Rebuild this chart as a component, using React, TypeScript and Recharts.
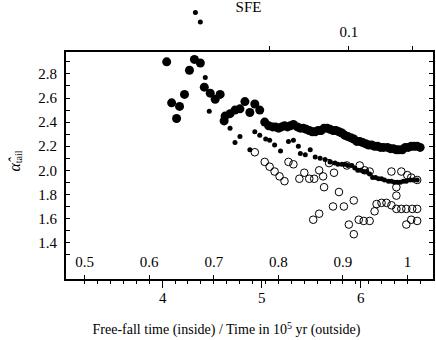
import { ScatterChart, Scatter, XAxis, YAxis } from 'recharts';

const SERIF = "'Liberation Serif', 'Times New Roman', serif";
const W = 436;
const H = 340;
// pixel box of the frame; the chart's plot area starts higher (PLOT_TOP) so
// the two dots above the frame are not clipped
const PLOT_TOP = 4;
const PLOT_LEFT = 65;
const PLOT_RIGHT = W - 2;
const FRAME_TOP = 51;
const FRAME_BOTTOM = 280;

const TIME_DOMAIN: [number, number] = [3.013, 6.74];
const FF_DOMAIN: [number, number] = [0.4696, 1.0409];
const Y_MIN = 1.09;
const Y_FRAME = 2.99;
const PER_PX = (Y_FRAME - Y_MIN) / (FRAME_BOTTOM - FRAME_TOP);
const Y_DOMAIN: [number, number] = [Y_MIN, Y_FRAME + (FRAME_TOP - PLOT_TOP) * PER_PX];

// big filled circles
const bigTime = [
  4.04, 4.09, 4.14, 4.17, 4.22, 4.27, 4.32, 4.38, 4.42, 4.48,
  4.53, 4.58, 4.62, 4.63, 4.68, 4.73, 4.78, 4.83, 4.88, 4.93,
  4.98, 5.03, 5.07,
  5.11, 5.14, 5.17, 5.20, 5.23, 5.26, 5.29, 5.32, 5.36, 5.39,
  5.42, 5.45, 5.48, 5.51, 5.54, 5.57, 5.60, 5.63, 5.66, 5.69,
  5.72, 5.75, 5.78, 5.81, 5.84, 5.87, 5.90, 5.93, 5.96, 5.99,
  6.02, 6.05, 6.08, 6.11, 6.14, 6.17, 6.20, 6.23, 6.27, 6.30,
  6.33, 6.36, 6.39, 6.42, 6.45, 6.48, 6.51, 6.54, 6.57, 6.60,
];
const bigAlpha = [
  2.90, 2.56, 2.43, 2.53, 2.63, 2.83, 2.92, 2.89, 2.69, 2.64,
  2.59, 2.63, 2.41, 2.45, 2.47, 2.50, 2.51, 2.57, 2.48, 2.55,
  2.50, 2.40, 2.37,
  2.36, 2.36, 2.35, 2.36, 2.37, 2.36, 2.37, 2.38, 2.36, 2.35,
  2.35, 2.34, 2.33, 2.32, 2.32, 2.33, 2.33, 2.35, 2.35, 2.34,
  2.33, 2.33, 2.32, 2.31, 2.29, 2.28, 2.27, 2.26, 2.24, 2.24,
  2.23, 2.22, 2.21, 2.21, 2.20, 2.20, 2.19, 2.19, 2.19, 2.18,
  2.18, 2.17, 2.17, 2.17, 2.19, 2.19, 2.20, 2.20, 2.20, 2.19,
];

// small filled dots
const smallTime = [
  4.33, 4.38, 4.43, 4.47, 4.68, 4.73, 4.78, 4.88, 4.93, 4.98,
  5.04, 5.08, 5.13, 5.19, 5.27, 5.32, 5.37, 5.39, 5.44, 5.49,
  5.54, 5.59, 5.64, 5.69, 5.74, 5.77, 5.81, 5.84, 5.87, 5.91,
  5.94, 5.97, 6.00, 6.03, 6.06, 6.09, 6.12, 6.15, 6.18, 6.21,
  6.24, 6.28, 6.31, 6.34, 6.37, 6.40, 6.43, 6.46, 6.50, 6.53,
  6.57,
];
const smallAlpha = [
  3.31, 3.23, 2.77, 2.49, 2.35, 2.23, 2.28, 2.17, 2.32, 2.29,
  2.26, 2.25, 2.21, 2.16, 2.24, 2.25, 2.20, 2.14, 2.13, 2.17,
  2.11, 2.10, 2.09, 2.07, 2.06, 2.05, 2.05, 2.05, 2.04, 2.04,
  2.02, 2.00, 2.00, 1.99, 1.99, 1.97, 1.94, 1.94, 1.93, 1.93,
  1.92, 1.91, 1.91, 1.90, 1.90, 1.90, 1.91, 1.91, 1.92, 1.92,
  1.92,
];

// open circles
const openTime = [
  4.93, 5.03, 5.08, 5.13, 5.18, 5.23, 5.27, 5.32, 5.38, 5.43,
  5.48, 5.53, 5.52, 5.58, 5.58, 5.62, 5.63, 5.68, 5.73, 5.72,
  5.78, 5.83, 5.86, 5.88, 5.93, 5.93, 5.98, 5.99, 6.03, 6.04,
  6.09, 6.09, 6.14, 6.16, 6.21, 6.26, 6.31, 6.31, 6.36, 6.36,
  6.36, 6.41, 6.41, 6.46, 6.46, 6.47, 6.52, 6.51, 6.51, 6.57,
  6.57, 6.57,
];
const openAlpha = [
  2.15, 2.07, 2.03, 1.99, 1.95, 1.91, 2.07, 2.05, 1.93, 1.98,
  1.93, 1.93, 1.59, 1.64, 2.00, 1.95, 1.86, 2.06, 1.98, 1.70,
  1.82, 1.70, 2.04, 1.55, 1.47, 1.75, 1.59, 2.04, 1.58, 2.00,
  1.58, 1.99, 1.66, 1.72, 1.73, 1.73, 1.71, 1.99, 1.68, 1.79,
  1.86, 1.68, 1.99, 1.68, 1.55, 1.96, 1.68, 1.59, 1.94, 1.68,
  1.58, 1.92,
];

const alphaTicks = [1.3, 1.4, 1.5, 1.6, 1.7, 1.8, 1.9, 2.0, 2.1, 2.2, 2.3, 2.4, 2.5, 2.6, 2.7, 2.8, 2.9];
const timeTicks = [4, 5, 6];
const ffTicks = [
  0.5, 0.52, 0.54, 0.56, 0.58, 0.6, 0.62, 0.64, 0.66, 0.68,
  0.7, 0.72, 0.74, 0.76, 0.78, 0.8, 0.82, 0.84, 0.86, 0.88,
  0.9, 0.92, 0.94, 0.96, 0.98, 1.0, 1.02,
];
// SFE ticks, placed at the times they fall on
const sfeTickTimes = [5.08, 5.88, 6.52];
const sfeTickLabels = ['', '0.1', ''];

const zip = (t: number[], a: number[]) => t.map((v, i) => ({ t: v, a: a[i] }));
const bigData = zip(bigTime, bigAlpha);
const smallData = zip(smallTime, smallAlpha);
const openData = zip(openTime, openAlpha);
// gives the free-fall axis a domain so it builds its ticks
const ffAnchors = FF_DOMAIN.map((f, i) => ({ t: f, a: Y_DOMAIN[i] }));

const bigDot = (p: any) => <circle cx={p.cx} cy={p.cy} r={4.5} fill="#000" />;
const smallDot = (p: any) => <circle cx={p.cx} cy={p.cy} r={2.5} fill="#000" />;
const openDot = (p: any) => <circle cx={p.cx} cy={p.cy} r={3.8} fill="none" stroke="#000" strokeWidth={1} />;
const noDot = () => <g />;

const isTenth = (v: number) => Math.abs(v * 10 - Math.round(v * 10)) < 1e-6;
const fmtAlpha = (v: number) => (Math.round(v * 10) % 2 === 0 ? v.toFixed(1) : '');

const txt = { fontFamily: SERIF, fontSize: 15, fill: '#000' };

const AlphaTick = (props: any) => {
  const { x, y, payload } = props;
  const lbl = fmtAlpha(payload.value);
  return lbl ? <text x={x} y={y} dy="0.35em" textAnchor="end" {...txt}>{lbl}</text> : <g />;
};
const TimeTick = (props: any) => (
  <text x={props.x} y={props.y} dy="0.75em" textAnchor="middle" {...txt}>{props.payload.value}</text>
);
const FfTick = (props: any) => {
  const v = props.payload.value;
  return isTenth(v) ? <text x={props.x} y={props.y} textAnchor="middle" {...txt}>{v === 1 ? '1' : v.toFixed(1)}</text> : <g />;
};

const alphaLabel = (props: any) => {
  const vb = props.viewBox;
  const cx = vb.x + 14;
  const cy = vb.y + vb.height - 119;
  return (
    <text x={cx} y={cy} transform={`rotate(-90, ${cx}, ${cy})`} textAnchor="middle" dominantBaseline="central"
      fontFamily={SERIF} fontSize={16} fill="#000">
      <tspan fontStyle="italic">α̂</tspan>
      <tspan fontSize={10} dy={4}>tail</tspan>
    </text>
  );
};

const timeLabel = (props: any) => {
  const vb = props.viewBox;
  return (
    <text x={vb.x + vb.width / 2 - 23} y={vb.y + 54} textAnchor="middle" fontFamily={SERIF} fontSize={14} fill="#000">
      Free-fall time (inside) / Time in 10<tspan dy={-5} fontSize={10}>5</tspan>
      <tspan dy={5}> yr (outside)</tspan>
    </text>
  );
};

// frame and tick marks, laid over the chart on the same linear mapping as its axes
const PLOT_W = PLOT_RIGHT - PLOT_LEFT;
const timeX = (t: number) => PLOT_LEFT + ((t - TIME_DOMAIN[0]) / (TIME_DOMAIN[1] - TIME_DOMAIN[0])) * PLOT_W;
const ffX = (f: number) => PLOT_LEFT + ((f - FF_DOMAIN[0]) / (FF_DOMAIN[1] - FF_DOMAIN[0])) * PLOT_W;
const alphaY = (a: number) => FRAME_BOTTOM - (a - Y_MIN) / PER_PX;

const mark = (key: string, left: number, top: number, width: number, height: number) => (
  <div key={key} style={{ position: 'absolute', left, top, width, height, background: '#000' }} />
);

function Frame() {
  const vTick = (key: string, x: number, y0: number, y1: number) => mark(key, Math.round(x - 0.5), y0, 1, y1 - y0);
  const hTick = (key: string, x0: number, y: number) => mark(key, x0, Math.round(y - 0.5), 5, 1);
  return (
    <div style={{ position: 'absolute', left: 0, top: 0, width: W, height: H, pointerEvents: 'none' }}>
      <div style={{
        position: 'absolute', left: PLOT_LEFT - 1, top: FRAME_TOP - 1, width: PLOT_W + 2,
        height: FRAME_BOTTOM - FRAME_TOP + 2, border: '2px solid #000', boxSizing: 'border-box',
      }} />
      {alphaTicks.map((a) => hTick('l' + a, PLOT_LEFT, alphaY(a)))}
      {alphaTicks.map((a) => hTick('r' + a, PLOT_RIGHT - 5, alphaY(a)))}
      {timeTicks.map((t) => vTick('t' + t, timeX(t), FRAME_BOTTOM, FRAME_BOTTOM + 8))}
      {ffTicks.map((f) => vTick('f' + f, ffX(f), isTenth(f) ? FRAME_BOTTOM - 5 : FRAME_BOTTOM, FRAME_BOTTOM + 4))}
      {sfeTickTimes.map((t) => vTick('s' + t, timeX(t), FRAME_TOP - 5, FRAME_TOP))}
      <svg width={W} height={H} style={{ position: 'absolute', left: 0, top: 0 }}>
        {sfeTickTimes.map((t, i) =>
          sfeTickLabels[i] ? (
            <text key={t} x={timeX(t)} y={FRAME_TOP - 14} textAnchor="middle" {...txt}>{sfeTickLabels[i]}</text>
          ) : null,
        )}
        <text x={PLOT_LEFT + PLOT_W / 2 - 1} y={12} textAnchor="middle" {...txt}>SFE</text>
      </svg>
    </div>
  );
}

export default function App() {
  return (
    <div style={{ position: 'absolute', left: 0, top: 0, width: W, height: H, background: '#fff' }}>
      <ScatterChart width={W} height={H} margin={{ top: PLOT_TOP, right: W - PLOT_RIGHT, bottom: 0, left: 0 }}>
        <XAxis
          xAxisId="time" orientation="bottom" type="number" dataKey="t"
          domain={TIME_DOMAIN} allowDataOverflow ticks={timeTicks} interval={0}
          height={H - FRAME_BOTTOM} tickSize={8} tickMargin={4}
          axisLine={false} tickLine={false} tick={<TimeTick />} label={timeLabel}
        />
        <XAxis
          xAxisId="ff" orientation="bottom" mirror type="number" dataKey="t"
          domain={FF_DOMAIN} allowDataOverflow ticks={ffTicks} interval={0}
          height={30} tickSize={5} tickMargin={8}
          axisLine={false} tickLine={false} tick={<FfTick />}
        />
        <YAxis
          yAxisId="left" orientation="left" type="number" dataKey="a"
          domain={Y_DOMAIN} allowDataOverflow ticks={alphaTicks} interval={0}
          width={PLOT_LEFT} tickSize={-5} tickMargin={13}
          axisLine={false} tickLine={false} tick={<AlphaTick />} label={alphaLabel}
        />
        <Scatter xAxisId="ff" yAxisId="left" data={ffAnchors} shape={noDot} isAnimationActive={false} />
        <Scatter xAxisId="time" yAxisId="left" data={openData} shape={openDot} isAnimationActive={false} />
        <Scatter xAxisId="time" yAxisId="left" data={smallData} shape={smallDot} isAnimationActive={false} />
        <Scatter xAxisId="time" yAxisId="left" data={bigData} shape={bigDot} isAnimationActive={false} />
      </ScatterChart>
      <Frame />
    </div>
  );
}
